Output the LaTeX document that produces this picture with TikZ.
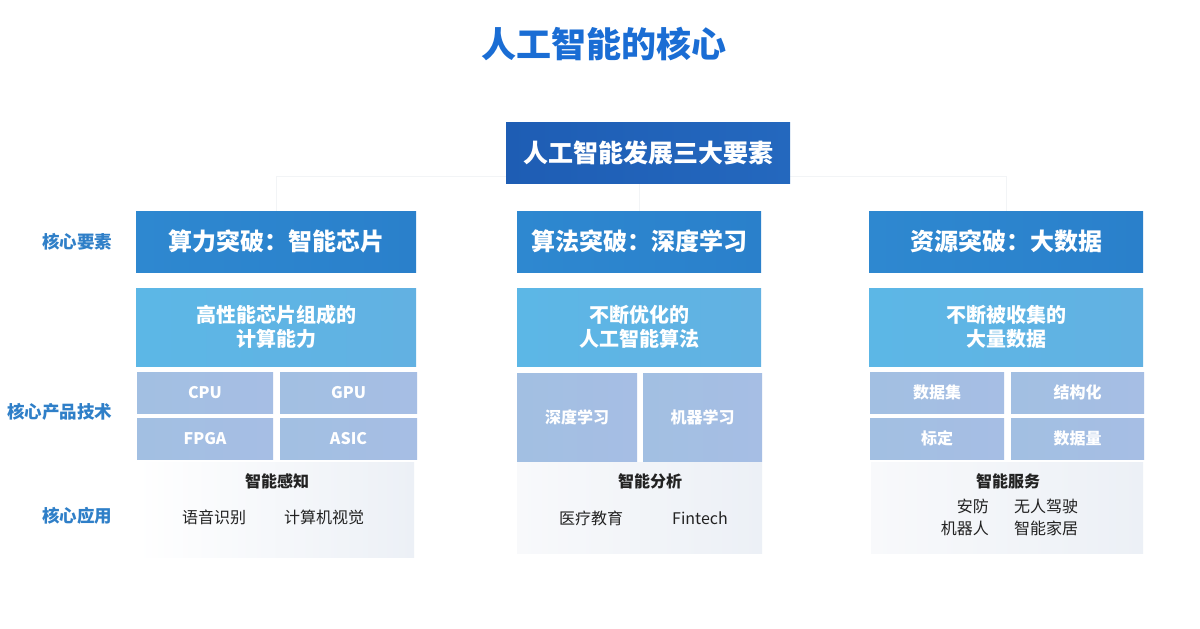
\documentclass[tikz,border=0pt]{standalone}
\usepackage{fontspec}
\setmainfont{Noto Sans CJK SC}
\definecolor{titleblue}{HTML}{1A6DD4}
\definecolor{mainblue}{HTML}{1E5DB4}
\definecolor{mainblue2}{HTML}{2468BE}
\definecolor{headblue}{HTML}{2E88D0}
\definecolor{headblue2}{HTML}{2A80CB}
\definecolor{descblue}{HTML}{5CB7E6}
\definecolor{descblue2}{HTML}{62B1E2}
\definecolor{subblue}{HTML}{A2BFE2}
\definecolor{subblue2}{HTML}{A6BEE4}
\definecolor{labelblue}{HTML}{2F7FC8}
\definecolor{appbg}{HTML}{ECF0F6}
\definecolor{appbgl}{HTML}{F8F9FB}
\definecolor{conncol}{HTML}{F2F4F6}
\definecolor{apptext}{HTML}{222222}
\tikzset{
  box/.style={rectangle, inner sep=0pt, text=white, align=center},
  headbox/.style={box, left color=headblue, right color=headblue2, minimum height=61pt,
    font=\fontsize{24}{28}\selectfont\bfseries},
  descbox/.style={box, left color=descblue, right color=descblue2, minimum height=78pt,
    font=\fontsize{20}{24}\selectfont\bfseries},
  subbox/.style={box, left color=subblue, right color=subblue2,
    font=\fontsize{16}{20}\selectfont\bfseries},
  appbox/.style={rectangle, inner sep=0pt, left color=appbgl, right color=appbg},
  rowlabel/.style={anchor=east, text=labelblue, font=\fontsize{17.5}{20}\selectfont\bfseries},
  apptitle/.style={text=apptext, font=\fontsize{16}{20}\selectfont\bfseries},
  appitem/.style={text=apptext, font=\fontsize{16}{20}\selectfont, inner sep=0pt},
  conn/.style={draw=conncol, line width=1pt}
}
\begin{document}
\begin{tikzpicture}[x=1pt,y=-1pt]
\useasboundingbox[fill=white] (0,0) rectangle (1200,629);

% title
\node[text=titleblue, font=\fontsize{35}{40}\selectfont\bfseries] (title) at (604,44) {人工智能的核心};

% headers
\node[headbox, minimum width=280pt] (h1) at (276,241.5) {算力突破：智能芯片};
\node[headbox, minimum width=244pt] (h2) at (639,241.5) {算法突破：深度学习};
\node[headbox, minimum width=274pt] (h3) at (1006,241.5) {资源突破：大数据};

% faint connectors
\coordinate (bus) at (640,176);
\draw[conn] (h1.north) -- (h1.north |- bus) -- (h3.north |- bus) -- (h3.north);
\draw[conn] (h2.north |- bus) -- (h2.north);

% main box
\node[box, left color=mainblue, right color=mainblue2, minimum width=284pt, minimum height=61pt,
  font=\fontsize{25}{29}\selectfont\bfseries] (main) at (648,152.5) {人工智能发展三大要素};

% row labels
\node[rowlabel] (l1) at (116,242) {核心要素};
\node[rowlabel] (l2) at (116,412) {核心产品技术};
\node[rowlabel] (l3) at (116,516) {核心应用};

% descriptions
\node[descbox, minimum width=280pt] (d1) at (276,327) {高性能芯片组成的\\计算能力};
\node[descbox, minimum width=244pt] (d2) at (639,327) {不断优化的\\人工智能算法};
\node[descbox, minimum width=274pt] (d3) at (1006,327) {不断被收集的\\大量数据};

% sub boxes col1
\node[subbox, minimum width=136pt, minimum height=41pt] (s11) at (205,392.5) {CPU};
\node[subbox, minimum width=137pt, minimum height=41pt] (s12) at (348.5,392.5) {GPU};
\node[subbox, minimum width=136pt, minimum height=41pt] (s13) at (205,438.5) {FPGA};
\node[subbox, minimum width=137pt, minimum height=41pt] (s14) at (348.5,438.5) {ASIC};
% col2
\node[subbox, minimum width=120pt, minimum height=88pt] (s21) at (577,417) {深度学习};
\node[subbox, minimum width=119pt, minimum height=88pt] (s22) at (702.5,417) {机器学习};
% col3
\node[subbox, minimum width=134pt, minimum height=41pt] (s31) at (937,392.5) {数据集};
\node[subbox, minimum width=133pt, minimum height=41pt] (s32) at (1077.5,392.5) {结构化};
\node[subbox, minimum width=134pt, minimum height=41pt] (s33) at (937,438.5) {标定};
\node[subbox, minimum width=133pt, minimum height=41pt] (s34) at (1077.5,438.5) {数据量};

% application boxes
\node[appbox, left color=white, minimum width=278pt, minimum height=95pt] (a1) at (275,509.5) {};
\node[appbox, minimum width=245pt, minimum height=91pt] (a2) at (639.5,507.5) {};
\node[appbox, minimum width=272pt, minimum height=91pt] (a3) at (1007,507.5) {};

\node[apptitle] (t1) at (277,481) {智能感知};
\node[appitem] (i11) at (214,517) {语音识别};
\node[appitem] (i12) at (324,517) {计算机视觉};

\node[apptitle] (t2) at (650,481) {智能分析};
\node[appitem] (i21) at (591,518) {医疗教育};
\node[appitem] (i22) at (700,518) {Fintech};

\node[apptitle] (t3) at (1008,481) {智能服务};
\node[appitem, anchor=east] (i31) at (989,506) {安防};
\node[appitem, anchor=west] (i32) at (1014,506) {无人驾驶};
\node[appitem, anchor=east] (i33) at (989,528) {机器人};
\node[appitem, anchor=west] (i34) at (1014,528) {智能家居};
\end{tikzpicture}
\end{document}
